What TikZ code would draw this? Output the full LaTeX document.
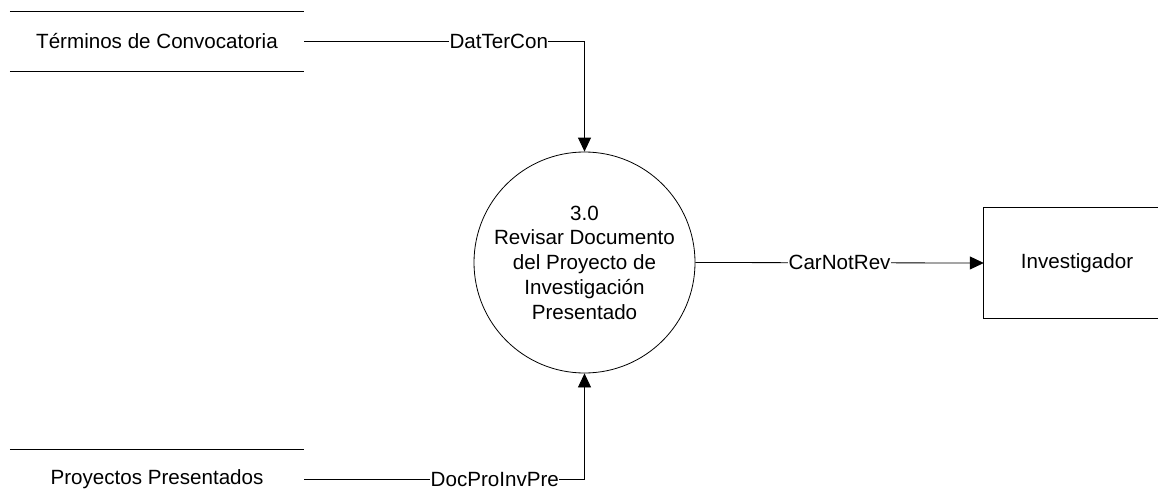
\documentclass[tikz,border=0pt]{standalone}
\usepackage{fontspec}
\setmainfont{Liberation Sans}
\usetikzlibrary{arrows.meta}
\begin{document}
\begin{tikzpicture}[x=1pt,y=-1pt,
  every node/.style={font=\fontsize{20.6}{24.75}\selectfont},
  ln/.style={line width=0.8pt,draw=black},
  flow/.style={ln,-{Triangle[length=14pt,width=13pt]}},
  plain/.style={ln},
  store/.style={minimum width=294pt,minimum height=59pt,inner sep=0pt},
  proc/.style={circle,ln,minimum size=221pt,inner sep=0pt,align=center},
  entity/.style={rectangle,minimum width=186pt,minimum height=110pt,inner sep=0pt},
  lbl/.style={fill=white,inner sep=0.5pt}]
\useasboundingbox (0,0) rectangle (1158,500);
\node[store] (s1) at (157,41.5) {Términos de Convocatoria};
\draw[plain] (s1.north west) -- (s1.north east);
\draw[plain] (s1.south west) -- (s1.south east);
\node[store] (s2) at (157,479.5) {Proyectos Presentados};
\draw[plain] (s2.north west) -- (s2.north east);
\node[proc] (p) at (584.5,262.5) {3.0\\Revisar Documento\\del Proyecto de\\Investigación\\Presentado};
\node[entity] (b) at (1077,263) {Investigador};
\draw[plain] (b.north west -| 1158,0) -- (b.north west) -- (b.south west) -- (b.south west -| 1158,0);
\draw[flow] (s1.east) -| node[lbl,pos=0.347] {DatTerCon} (p.north);
\draw[flow] (s2.east) -| node[lbl,pos=0.34] {DocProInvPre} (p.south);
\draw[flow] (p.east) -- node[lbl,pos=0.5] {CarNotRev} (b.west);
\end{tikzpicture}
\end{document}
